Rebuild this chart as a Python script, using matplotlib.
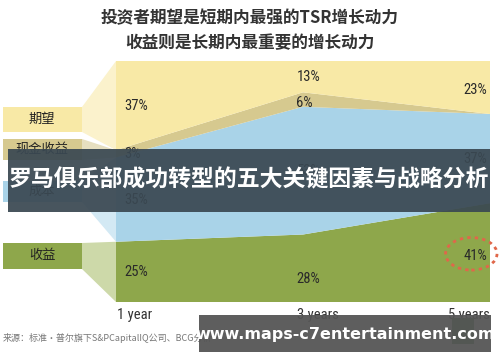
import matplotlib
matplotlib.use("Agg")
import matplotlib.pyplot as plt
from matplotlib.patches import Rectangle, Polygon, Ellipse
import numpy as np

plt.rcParams['font.family'] = ['Noto Sans CJK SC', 'DejaVu Sans']

# data
years = [1, 3, 5]
year_labels = ["1 year", "3 years", "5 years"]
series_names = ["收益", "成本", "现金收益", "期望"]
revenue = [25, 28, 41]
cost = [35, 53, 37]
cash = [3, 6, 0]
expect = [37, 13, 23]
pct_labels = [
    ["25%", "28%", "41%"],
    ["35%", "53%", "37%"],
    ["3%", "6%", ""],
    ["37%", "13%", "23%"],
]

colors = ["#8ea74b", "#a9d3e8", "#d6c98f", "#f8e9a6"]
light = ["#cdd9a9", "#d3e9f4", "#e6dfc0", "#fbf2cc"]

W, H = 500, 362
fig = plt.figure(figsize=(W / 100, H / 100), dpi=100)
fig.patch.set_facecolor("white")

# main chart area (pixel box 116..490, 61..302)
ax = fig.add_axes([116 / W, 1 - 302 / H, (490 - 116) / W, (302 - 61) / H])
ax.stackplot(years, revenue, cost, cash, expect, colors=colors, linewidth=0)
ax.set_xlim(1, 5)
ax.set_ylim(0, 100)
ax.axis("off")

num_font = ["Liberation Sans Narrow", "Roboto Condensed", "DejaVu Sans"]
num_kw = dict(family=num_font, stretch="condensed")

# percentage labels
stack = np.vstack([revenue, cost, cash, expect])
cum = np.cumsum(stack, axis=0)
nudge = {(0, 1): -4.5, (2, 1): -1.5, (0, 2): -1.5, (3, 2): -1.5}
for i in range(4):
    for j, x in enumerate(years):
        if not pct_labels[i][j]:
            continue
        mid = cum[i, j] - stack[i, j] / 2 + nudge.get((i, j), 0)
        if j == 0:
            xx, ha = 1.09, "left"
        elif j == 1:
            xx, ha = 2.93, "left"
        else:
            xx, ha = 4.97, "right"
        ax.text(xx, mid, pct_labels[i][j], ha=ha, va="center", fontsize=10.5,
                color="#2a2a2a", **num_kw)

# dashed ellipse around 41%
ax.add_patch(Ellipse((4.8, 20.0), 0.55, 13.5, fill=False, edgecolor="#e0674a",
                     linestyle=(0, (1.2, 1.5)), linewidth=2, clip_on=False))

# x labels
for x, lab in zip(years, year_labels):
    ha = "right" if x == 5 else "left"
    xx = 1.01 if x == 1 else (2.94 if x == 3 else 5.0)
    ax.text(xx, -2.5, lab, ha=ha, va="top", fontsize=10.5, color="#333333", **num_kw)

# overlay in pixel coordinates
ov = fig.add_axes([0, 0, 1, 1], zorder=5)
ov.set_xlim(0, W)
ov.set_ylim(H, 0)
ov.axis("off")

# legend boxes on the left with connectors to the 1-year stack
boxes = [(243, 269), (181, 202), (139, 160), (107, 132)]
to_px = lambda x, y: ov.transData.inverted().transform(ax.transData.transform((x, y)))
for i in range(4):
    top, bot = boxes[i]
    y_lo = to_px(1, cum[i, 0] - stack[i, 0])[1]
    y_hi = to_px(1, cum[i, 0])[1]
    ov.add_patch(Polygon([(82, top), (116, y_hi), (116, y_lo), (82, bot)],
                         closed=True, facecolor=light[i], edgecolor="none", zorder=1))
    ov.add_patch(Rectangle((3, top), 79, bot - top, facecolor=colors[i],
                           edgecolor="none", zorder=2))
    ov.text(42, (top + bot) / 2, series_names[i], ha="center", va="center",
            fontsize=9.5, color="#222222", zorder=3)

# title
ov.text(250, 18, "投资者期望是短期内最强的TSR增长动力", ha="center", va="center",
        fontsize=12, fontweight="bold", color="#333333")
ov.text(250, 43, "收益则是长期内最重要的增长动力", ha="center", va="center",
        fontsize=12, fontweight="bold", color="#333333")

# source
ov.text(3, 338, "来源：标准·普尔旗下S&PCapitalIQ公司、BCG分析", ha="left", va="center",
        fontsize=6.5, color="#777777")

# small logo
ov.add_patch(Rectangle((452, 318), 22, 26, facecolor="#3f7d3a", edgecolor="none", zorder=3))

# banners
ov.add_patch(Rectangle((8, 149), 482, 63, facecolor="#3a4852", alpha=0.93,
                       edgecolor="none", zorder=8))
ov.text(249, 180, "罗马俱乐部成功转型的五大关键因素与战略分析", ha="center", va="center",
        fontsize=16.5, fontweight="bold", color="white", zorder=9)

ov.add_patch(Rectangle((199, 315), 292, 37, facecolor="#555555", alpha=0.95,
                       edgecolor="none", zorder=8))
ov.text(345, 334, "www.maps-c7entertainment.com", ha="center", va="center",
        fontsize=11.5, fontweight="bold", color="white", family="DejaVu Sans", zorder=9)

fig.savefig("out.png", dpi=100)
plt.close(fig)
